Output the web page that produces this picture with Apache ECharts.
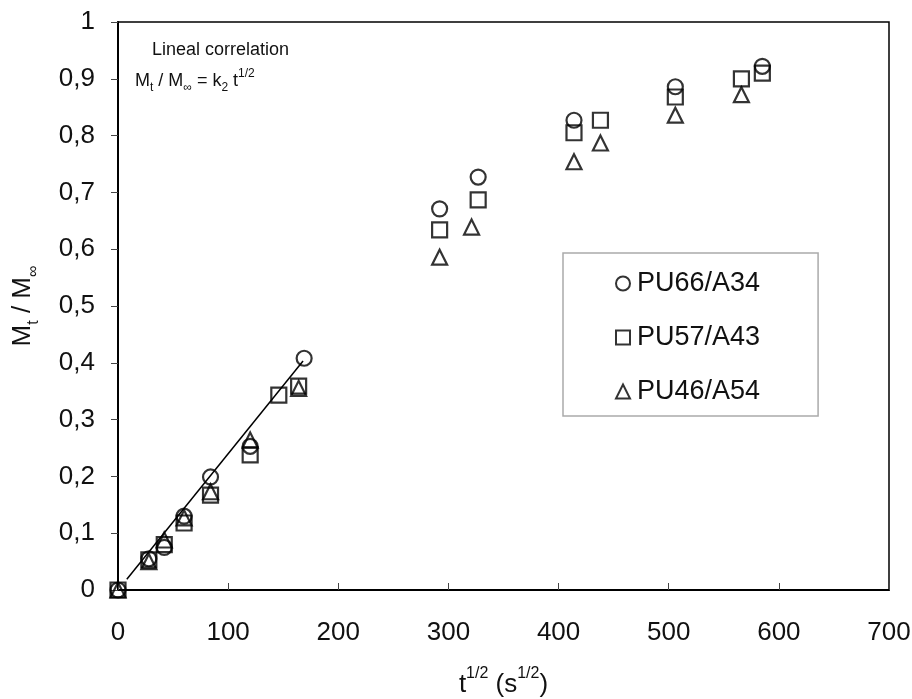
<!DOCTYPE html>
<html>
<head>
<meta charset="utf-8">
<script src="https://cdn.jsdelivr.net/npm/echarts@6/dist/echarts.min.js"></script>
<style>
  html, body { margin: 0; padding: 0; background: #fff; }
  #chart { width: 912px; height: 699px; }
</style>
</head>
<body>
<div id="chart"></div>
<script>
// t^1/2 (s^1/2) and Mt/Minf
const pu66X = [0, 28, 42, 60, 84, 120, 169, 292, 327, 414, 506, 585]
const pu66Y = [0, 0.055, 0.075, 0.13, 0.199, 0.253, 0.408, 0.671, 0.727, 0.827, 0.886, 0.922]

const pu57X = [0, 28, 42, 60, 84, 120, 146, 164, 292, 327, 414, 438, 506, 566, 585]
const pu57Y = [0, 0.053, 0.08, 0.118, 0.167, 0.238, 0.343, 0.359, 0.634, 0.687, 0.805, 0.827, 0.868, 0.9, 0.91]

const pu46X = [0, 28, 42, 60, 84, 120, 164, 292, 321, 414, 438, 506, 566]
const pu46Y = [0, 0.05, 0.088, 0.127, 0.173, 0.264, 0.355, 0.586, 0.639, 0.754, 0.787, 0.836, 0.872]

// lineal correlation drawn over the first part
const fitX = [8, 168]
const fitY = [0.019, 0.403]

const seriesNames = ['PU66/A34', 'PU57/A43', 'PU46/A54']
const xTicks = [0, 100, 200, 300, 400, 500, 600, 700]

const zip = (xs, ys) => xs.map((x, i) => [x, ys[i]])

const FONT = 'Liberation Sans, Arial, sans-serif'
const INK = '#000'

const markStyle = {
  color: 'rgba(255,255,255,0)',
  borderColor: INK,
  borderWidth: 2.2,
}

function scatter(name, symbol, xs, ys) {
  return {
    name,
    type: 'scatter',
    symbol,
    symbolSize: 15,
    clip: false,
    itemStyle: markStyle,
    data: zip(xs, ys),
    z: 3,
  }
}

const chart = echarts.init(document.getElementById('chart'))

const option = {
  backgroundColor: '#fff',
  animation: false,
  textStyle: { fontFamily: FONT, color: INK },
  grid: {
    left: 118,
    right: 23,
    top: 22,
    bottom: 109,
    outerBoundsMode: 'none',
    containLabel: false,
    show: true,
    borderColor: INK,
    borderWidth: 1.5,
    backgroundColor: 'transparent',
  },
  xAxis: {
    type: 'value',
    min: xTicks[0],
    max: xTicks[xTicks.length - 1],
    interval: 100,
    splitLine: { show: false },
    axisLine: { lineStyle: { color: INK, width: 2 } },
    axisTick: { inside: true, length: 7, lineStyle: { color: '#444', width: 1 } },
    axisLabel: { margin: 30, fontSize: 26, color: '#111', fontFamily: FONT },
    name: '{b|t}{sup|1/2}{b| (s}{sup|1/2}{b|)}',
    nameLocation: 'middle',
    nameGap: 76,
    nameTextStyle: {
      rich: {
        b: { fontSize: 26, color: '#111', fontFamily: FONT, verticalAlign: 'bottom', lineHeight: 32 },
        sup: { fontSize: 16, color: '#111', fontFamily: FONT, verticalAlign: 'top', lineHeight: 32 },
      },
    },
  },
  yAxis: {
    type: 'value',
    min: 0,
    max: 1,
    interval: 0.1,
    splitLine: { show: false },
    axisLine: { lineStyle: { color: INK, width: 2 } },
    axisTick: { length: 7, lineStyle: { color: '#444', width: 1 } },
    axisLabel: {
      margin: 23,
      fontSize: 26,
      color: '#111',
      fontFamily: FONT,
      formatter: v => String(Math.round(v * 10) / 10).replace('.', ','),
    },
    name: '{b|M}{sub|t}{b| / M}{sub|∞}',
    nameLocation: 'middle',
    nameGap: 76,
    nameTextStyle: {
      rich: {
        b: { fontSize: 26, color: '#111', fontFamily: FONT, verticalAlign: 'top', lineHeight: 32 },
        sub: { fontSize: 16, color: '#111', fontFamily: FONT, verticalAlign: 'bottom', lineHeight: 32 },
      },
    },
  },
  legend: {
    data: seriesNames,
    orient: 'vertical',
    left: 563,
    top: 253,
    padding: [15, 58, 9, 52],
    itemGap: 23,
    itemWidth: 14,
    itemHeight: 14,
    backgroundColor: '#fff',
    borderColor: '#aaa',
    borderWidth: 1.5,
    borderRadius: 0,
    textStyle: { fontSize: 27, color: '#111', fontFamily: FONT, lineHeight: 31, padding: [0, 0, 0, 2] },
  },
  graphic: [
    {
      type: 'text',
      left: 152,
      top: 41,
      style: { text: 'Lineal correlation', font: '18px ' + FONT, fill: '#111' },
    },
    {
      type: 'text',
      left: 135,
      top: 68,
      style: {
        text: '{b|M}{sub|t}{b| / M}{sub|∞}{b| = k}{sub|2}{b| t}{sup|1/2}',
        rich: {
          b: { font: '18px ' + FONT, fill: '#111', verticalAlign: 'middle', lineHeight: 26 },
          sub: { font: '12px ' + FONT, fill: '#111', verticalAlign: 'bottom', lineHeight: 26 },
          sup: { font: '12px ' + FONT, fill: '#111', verticalAlign: 'top', lineHeight: 26 },
        },
      },
    },
  ],
  series: [
    {
      name: 'fit',
      type: 'line',
      data: zip(fitX, fitY),
      showSymbol: false,
      symbol: 'none',
      lineStyle: { color: INK, width: 1.5 },
      z: 2,
    },
    scatter(seriesNames[0], 'circle', pu66X, pu66Y),
    scatter(seriesNames[1], 'rect', pu57X, pu57Y),
    scatter(seriesNames[2], 'triangle', pu46X, pu46Y),
  ],
}

chart.setOption(option, true)
</script>
</body>
</html>
